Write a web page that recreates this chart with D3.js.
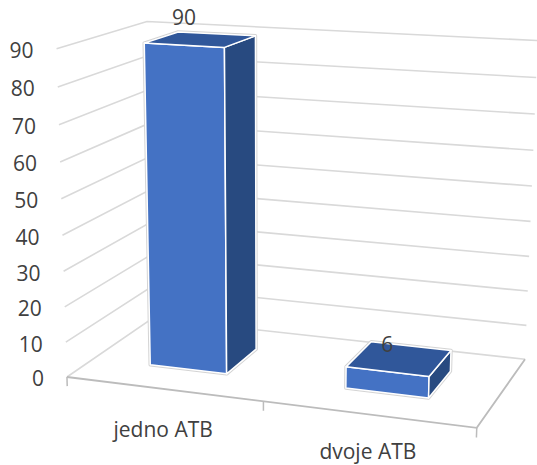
<!DOCTYPE html>
<html>
<head>
<meta charset="utf-8">
<script src="https://cdn.jsdelivr.net/npm/d3@7"></script>
<style>
  html, body { margin: 0; padding: 0; background: #ffffff; }
  svg { display: block; }
  text { font-family: "Open Sans", "Noto Sans", sans-serif; fill: #404040; }
</style>
</head>
<body>
<svg id="chart" width="537" height="465"></svg>
<script>
// Data
const categories = ["jedno ATB", "dvoje ATB"];
const values = [90, 6];
const valueTicks = [0, 10, 20, 30, 40, 50, 60, 70, 80, 90];

const chartWidth = 537, chartHeight = 465;

// Size of the 3D plot box in world units (width along categories, height, depth)
const boxW = 2.39, boxH = 1.88, boxD = 1.21;

// Camera: rotation about the vertical axis, tilt, focal length, principal point
const rotY = 20 * Math.PI / 180;
const rotX = 15 * Math.PI / 180;
const focal = 1752, cx = 270, cy = 254;
const camOffset = [-1.159, -0.702, 10];

function project([X, Y, Z]) {
  const xr = X * Math.cos(rotY) + Z * Math.sin(rotY);
  const zr = -X * Math.sin(rotY) + Z * Math.cos(rotY);
  const xc = xr + camOffset[0];
  const yc = Y * Math.cos(rotX) + zr * Math.sin(rotX) + camOffset[1];
  const zc = -Y * Math.sin(rotX) + zr * Math.cos(rotX) + camOffset[2];
  return [cx + focal * xc / zc, cy - focal * yc / zc];
}

// Scales from data to world coordinates
const x = d3.scaleBand().domain(categories).range([0, boxW])
  .paddingInner(0.6).paddingOuter(0.3);
const xCat = d3.scaleBand().domain(categories).range([0, boxW]);
const y = d3.scaleLinear().domain([0, 90]).range([0, boxH]);
const z = d3.scaleLinear().domain([0, 1]).range([0, boxD]);

const svg = d3.select("#chart");
const line3d = pts => "M" + pts.map(p => project(p).join(",")).join("L");
const poly3d = pts => line3d(pts) + "Z";

// Gridlines on the side wall and back wall
const grid = svg.append("g").attr("fill", "none")
  .attr("stroke", "#d9d9d9").attr("stroke-width", 1.6);
valueTicks.forEach(t => {
  grid.append("path")
    .attr("d", line3d([[0, y(t), 0], [0, y(t), boxD], [boxW, y(t), boxD]]));
});

// Floor front and right edges
svg.append("path")
  .attr("d", line3d([[0, 0, 0], [boxW, 0, 0], [boxW, 0, boxD]]))
  .attr("fill", "none").attr("stroke", "#bcbcbc").attr("stroke-width", 1.8);

// Category tick marks
const tickXs = categories.map(c => xCat(c)).concat([boxW]);
svg.append("g").selectAll("path").data(tickXs).join("path")
  .attr("d", X => line3d([[X, 0, 0], [X, -0.055, 0]]))
  .attr("stroke", "#bcbcbc").attr("stroke-width", 1.5);

// Bars
const barFront = z(0.3), barBack = z(0.7);
const bars = svg.append("g");
categories.forEach((c, i) => {
  const X0 = x(c), X1 = X0 + x.bandwidth(), Y1 = y(values[i]);
  const Z0 = barFront, Z1 = barBack;
  const g = bars.append("g");
  g.append("path")
    .attr("d", poly3d([[X0, 0, Z0], [X1, 0, Z0], [X1, 0, Z1], [X1, Y1, Z1], [X0, Y1, Z1], [X0, Y1, Z0]]))
    .attr("fill", "none").attr("stroke", "#d4d4d4").attr("stroke-width", 3.5)
    .attr("stroke-linejoin", "round");
  const faces = [
    { pts: [[X0, 0, Z0], [X1, 0, Z0], [X1, Y1, Z0], [X0, Y1, Z0]], fill: "#4472c4" },
    { pts: [[X1, 0, Z0], [X1, 0, Z1], [X1, Y1, Z1], [X1, Y1, Z0]], fill: "#284a80" },
    { pts: [[X0, Y1, Z0], [X1, Y1, Z0], [X1, Y1, Z1], [X0, Y1, Z1]], fill: "#30579a" }
  ];
  faces.forEach(f => {
    g.append("path").attr("d", poly3d(f.pts))
      .attr("fill", f.fill).attr("stroke", "#ffffff")
      .attr("stroke-width", 1.5).attr("stroke-linejoin", "round");
  });
});

// Value axis labels
svg.append("g").selectAll("text").data(valueTicks).join("text")
  .attr("x", t => project([0, y(t), 0])[0] - 23)
  .attr("y", t => project([0, y(t), 0])[1] + 9.5)
  .attr("text-anchor", "end")
  .attr("font-size", 21)
  .text(t => t);

// Category labels, kept inside the bottom edge of the chart
const labelDescent = 6;
svg.append("g").selectAll("text").data(categories).join("text")
  .attr("x", c => project([xCat(c) + xCat.bandwidth() / 2, 0, 0])[0])
  .attr("y", c => Math.min(project([xCat(c) + xCat.bandwidth() / 2, 0, 0])[1] + 48.5,
                           chartHeight - labelDescent))
  .attr("text-anchor", "middle")
  .attr("font-size", 21)
  .text(c => c);

// Data labels at the top front of each bar
svg.append("g").selectAll("text").data(categories).join("text")
  .attr("x", (c, i) => project([x(c) + x.bandwidth() / 2, y(values[i]), barFront])[0])
  .attr("y", (c, i) => project([x(c) + x.bandwidth() / 2, y(values[i]), barFront])[1] - 20)
  .attr("text-anchor", "middle")
  .attr("font-size", 21)
  .text((c, i) => values[i]);
</script>
</body>
</html>
